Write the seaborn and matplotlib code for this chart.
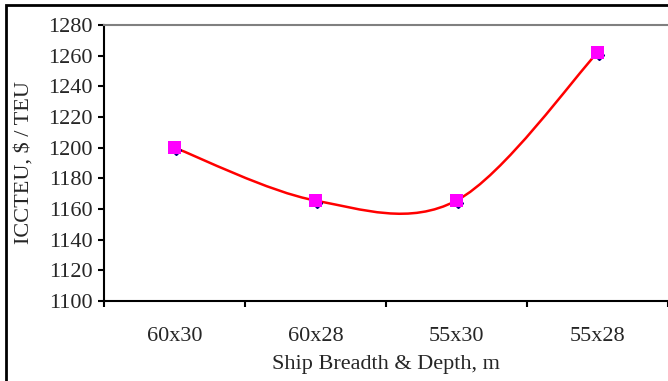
import matplotlib.pyplot as plt
import matplotlib.transforms as mtransforms
from matplotlib.path import Path
from matplotlib.patches import PathPatch, Rectangle
import numpy as np
import pandas as pd
import seaborn as sns

# ship size options and cost per TEU
sizes = ['60x30', '60x28', '55x30', '55x28']
icc = [1200, 1165.5, 1165.5, 1262]
yticks = [1100, 1120, 1140, 1160, 1180, 1200, 1220, 1240, 1260, 1280]

sns.set_style('ticks')
plt.rcParams['font.family'] = ['Liberation Serif', 'DejaVu Serif']

df = pd.DataFrame({'pos': np.arange(len(sizes)), 'icc': icc})

fig = plt.figure(figsize=(6.68, 3.81), dpi=100)
ax = fig.add_axes([104/668, 80/381, 564/668, 276/381])

# excel style smoothed line (bezier through the points)
pts = df[['pos', 'icc']].to_numpy(dtype=float)
n = len(pts)
verts = [pts[0]]
codes = [Path.MOVETO]
for i in range(n - 1):
    p_prev = pts[max(i - 1, 0)]
    p_next2 = pts[min(i + 2, n - 1)]
    c1 = pts[i] + (pts[i + 1] - p_prev) / 6
    c2 = pts[i + 1] - (p_next2 - pts[i]) / 6
    verts += [c1, c2, pts[i + 1]]
    codes += [Path.CURVE4] * 3
ax.add_patch(PathPatch(Path(verts, codes), facecolor='none',
                       edgecolor='#ff0000', lw=1.8, zorder=2))

# navy diamonds sitting just under the magenta squares
off = mtransforms.offset_copy(ax.transData, fig=fig, x=1, y=-1.5, units='points')
ax.plot(df['pos'], df['icc'], ls='none', marker='D', ms=5, color='#000080',
        transform=off, zorder=3)
sns.scatterplot(data=df, x='pos', y='icc', ax=ax, marker='s', s=80,
                color='#ff00ff', edgecolor='none', zorder=4)

ax.set_xlim(-0.5, 3.5)
ax.set_ylim(1100, 1280)
ax.set_yticks(yticks)
ax.set_xticks([-0.5, 0.5, 1.5, 2.5, 3.5])
ax.set_xticklabels([])
ax.set_xticks(np.arange(len(sizes)), minor=True)
ax.set_xticklabels(sizes, minor=True)
ax.tick_params(axis='both', which='major', length=4, width=1.5,
               labelsize=16, color='black')
ax.tick_params(axis='y', pad=4)
ax.tick_params(axis='x', which='minor', length=0, pad=19, labelsize=16)

for s in ['left', 'bottom']:
    ax.spines[s].set_color('black')
    ax.spines[s].set_linewidth(1.5)
ax.spines['top'].set_color('#808080')
ax.spines['top'].set_linewidth(1.5)
ax.spines['right'].set_visible(False)

ax.set_xlabel('Ship Breadth & Depth, m', fontsize=16, labelpad=6)
ax.set_ylabel('ICCTEU, $ / TEU', fontsize=16, labelpad=11)

# outer chart frame, cut off at right and bottom
fig.patches.append(Rectangle((6/668, -0.1), 1.2, 1.1 - 5/381,
                             transform=fig.transFigure, fill=False,
                             edgecolor='black', lw=2))

fig.savefig('out.png', dpi=100)
